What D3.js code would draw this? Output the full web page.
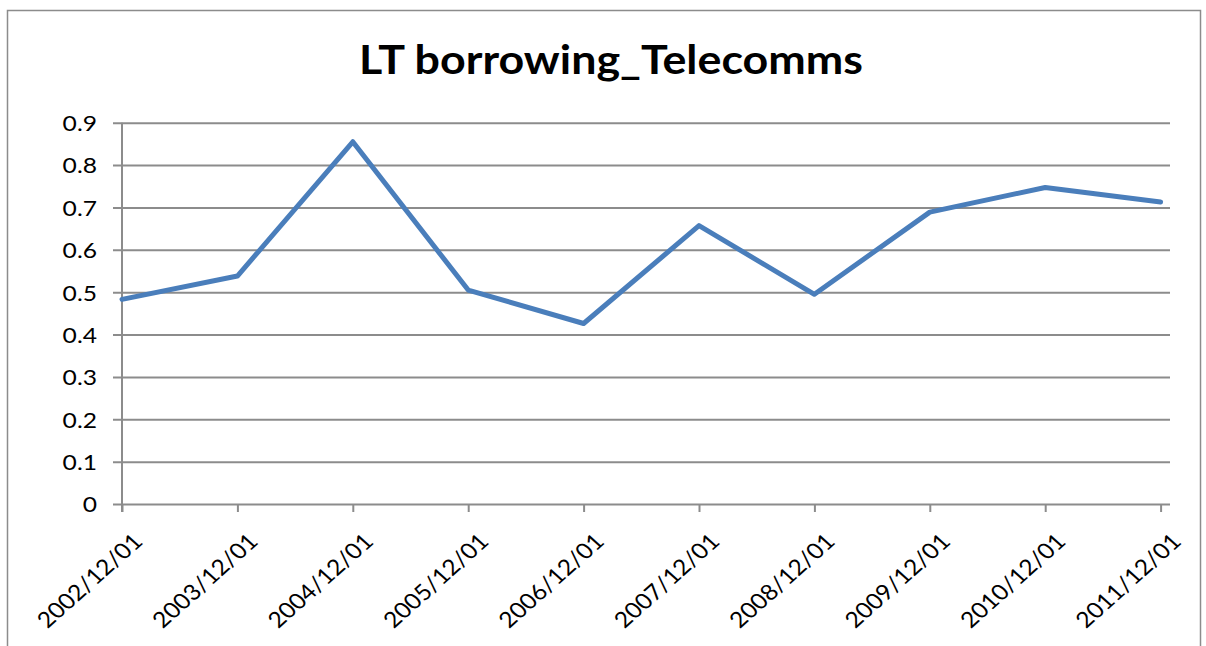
<!DOCTYPE html>
<html>
<head>
<meta charset="utf-8">
<script src="https://cdn.jsdelivr.net/npm/d3@7"></script>
<style>
  html, body { margin: 0; padding: 0; background: #fff; }
  svg { display: block; }
  svg text { font-family: Lato, "Open Sans", sans-serif; }
</style>
</head>
<body>
<svg id="chart" width="1206" height="646"></svg>
<script>
// Long-term borrowing ratio, telecommunications sector
const dates = ["2002/12/01", "2003/12/01", "2004/12/01", "2005/12/01", "2006/12/01",
               "2007/12/01", "2008/12/01", "2009/12/01", "2010/12/01", "2011/12/01"];
const ltBorrowing = [0.483, 0.538, 0.855, 0.505, 0.426, 0.657, 0.495, 0.689, 0.747, 0.713];
const yTicks = [0, 0.1, 0.2, 0.3, 0.4, 0.5, 0.6, 0.7, 0.8, 0.9];
const chartTitle = "LT borrowing_Telecomms";

// text is drawn slightly wide
const stretch = 1.12;

const svg = d3.select("#chart");

// chart area frame
svg.append("rect")
  .attr("x", 7.5).attr("y", 10.5)
  .attr("width", 1193).attr("height", 660)
  .attr("fill", "none").attr("stroke", "#8c8c8c").attr("stroke-width", 1.5);

const plot = { left: 122, right: 1170, top: 122.7, bottom: 504 };

const x = d3.scalePoint().domain(dates).range([plot.left, 1160.6]);
const y = d3.scaleLinear().domain([0, 0.9]).range([plot.bottom, plot.top]);

// horizontal gridlines with left tick stubs and labels
const yAxis = d3.axisLeft(y)
  .tickValues(yTicks)
  .tickSize(-(plot.right - plot.left))
  .tickFormat(d => d === 0 ? "0" : d3.format(".1f")(d));

const gy = svg.append("g")
  .attr("transform", `translate(${plot.left},0)`)
  .call(yAxis)
  .attr("font-family", null);
gy.select(".domain").remove();
gy.selectAll(".tick line")
  .attr("x1", -9)
  .attr("stroke", "#8c8c8c").attr("stroke-width", 2);
gy.selectAll(".tick text")
  .attr("fill", "#000").attr("font-size", 22)
  .attr("x", 0).attr("dy", "0.36em")
  .attr("text-anchor", "end")
  .attr("transform", `translate(-25,0) scale(${stretch},1)`);

// vertical axis line
svg.append("line")
  .attr("x1", plot.left).attr("x2", plot.left)
  .attr("y1", plot.top).attr("y2", plot.bottom + 8)
  .attr("stroke", "#8c8c8c").attr("stroke-width", 2);

// category axis
const xAxis = d3.axisBottom(x).tickSize(8).tickSizeOuter(0);
const gx = svg.append("g")
  .attr("transform", `translate(0,${plot.bottom})`)
  .call(xAxis)
  .attr("font-family", null);
gx.select(".domain").remove();
gx.selectAll(".tick line").attr("stroke", "#8c8c8c").attr("stroke-width", 2);
gx.selectAll(".tick text")
  .attr("fill", "#000")
  .attr("font-size", 22)
  .attr("text-anchor", "end")
  .attr("y", 0).attr("dy", 0)
  .attr("transform", `translate(21.5,39) scale(${stretch},1) rotate(-45)`);

// series line
const line = d3.line()
  .x((d, i) => x(dates[i]))
  .y(d => y(d));

svg.append("path")
  .datum(ltBorrowing)
  .attr("d", line)
  .attr("fill", "none")
  .attr("stroke", "#4a7ebb")
  .attr("stroke-width", 5)
  .attr("stroke-linejoin", "round")
  .attr("stroke-linecap", "round");

// title
svg.append("text")
  .attr("transform", `translate(611,74) scale(${stretch},1)`)
  .attr("text-anchor", "middle")
  .attr("font-size", 40)
  .attr("font-weight", "bold")
  .attr("fill", "#000")
  .text(chartTitle);
</script>
</body>
</html>
